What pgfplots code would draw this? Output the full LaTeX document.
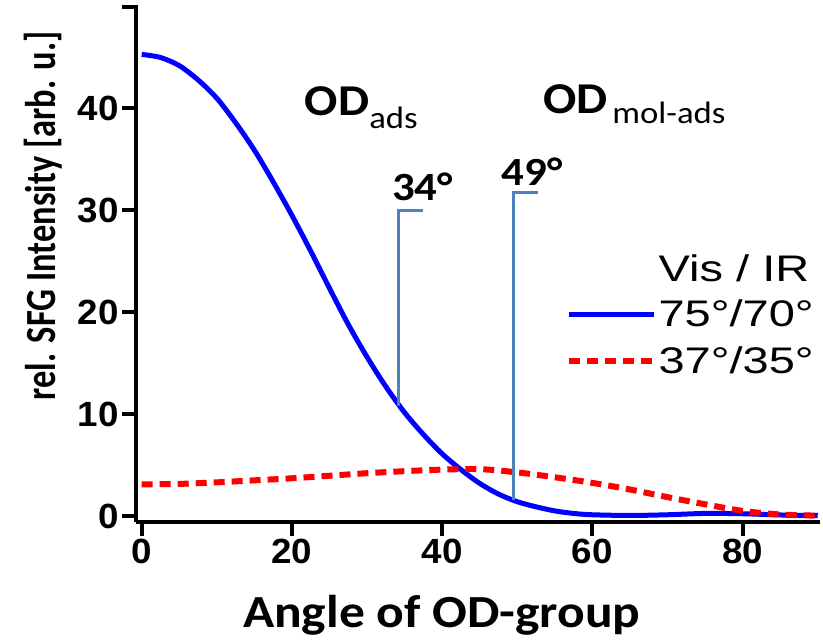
\documentclass[border=0pt]{standalone}
\usepackage{pgfplots}
\pgfplotsset{compat=1.18}
\usepackage{fontspec}
\setmainfont{Liberation Sans}
\newfontfamily\tickfont[FakeStretch=1.05]{Liberation Sans}
\newfontfamily\calfont[FakeStretch=1.12]{Carlito}
\newfontfamily\calfontv[FakeStretch=0.8]{Carlito}
\newfontfamily\legfont[FakeStretch=1.27]{Liberation Sans}
\definecolor{bracketblue}{RGB}{79,129,189}

% orientation dependence of the SFG signal for two Vis/IR geometries
\pgfplotstableread{
angle  I
0      45.3
2.5    45.0
5      44.2
7.5    42.8
10     41.0
12.5   38.6
15     35.9
17.5   32.8
20     29.5
22.5   26.0
25     22.35
27.5   18.8
30     15.6
32.5   12.7
35     10.15
37.5   8.0
40     6.1
42.5   4.55
45     3.2
47.5   2.15
50     1.4
52.5   0.9
55     0.5
57.5   0.25
60     0.12
65     0.05
70     0.12
75     0.25
80     0.22
85     0.10
90     0.05
}\steep

\pgfplotstableread{
angle  I
0      3.10
5      3.15
10     3.30
15     3.50
20     3.70
25     3.95
30     4.20
35     4.40
40     4.55
45     4.60
50     4.28
55     3.80
60     3.25
65     2.60
70     1.85
75     1.15
80     0.50
85     0.15
90     0.03
}\flat

\begin{document}
\begin{tikzpicture}
\useasboundingbox (-136pt,-121pt) rectangle (687pt,522pt);
\begin{axis}[
  at={(0pt,0pt)}, anchor=south west,
  scale only axis,
  width=684pt, height=517pt,
  xmin=-0.76, xmax=90.3,
  ymin=-0.59, ymax=50.15,
  axis x line*=bottom, axis y line*=left,
  axis line style={line width=4pt, -},
  every tick/.style={line width=4pt, black},
  tick align=outside,
  major tick length=14pt,
  xtick={0,20,40,60,80},
  ytick={0,10,20,30,40,50},
  yticklabels={0,10,20,30,40,{}},
  /pgf/number format/assume math mode=true,
  ticklabel style={font=\tickfont\bfseries\fontsize{35}{35}\selectfont},
  xlabel={Angle of OD-group},
  ylabel={rel. SFG Intensity [arb. u.]},
  xlabel style={font=\calfont\bfseries\fontsize{46}{46}\selectfont,
    at={(axis description cs:0.447,-0.205)}, anchor=base},
  ylabel style={font=\calfontv\bfseries\fontsize{43}{43}\selectfont,
    at={(axis description cs:-0.135,0.592)}, anchor=center},
  legend image code/.code={\draw[#1] (0pt,0pt) -- (85pt,0pt);},
  legend style={draw=none, fill=none, font=\legfont\fontsize{37}{37}\selectfont,
    at={(axis cs:56.4,21.4)}, anchor=north west, inner sep=0pt,
    row sep=14pt, cells={anchor=west}},
  clip=false,
]
\addplot[blue, line width=5pt, smooth] table[x=angle, y=I] {\steep};
\addlegendentry{75°/70°}
\addplot[red, line width=6pt, dash pattern=on 11pt off 7pt, smooth] table[x=angle, y=I] {\flat};
\addlegendentry{37°/35°}

% angle markers
\addplot[bracketblue, line width=3pt, forget plot] coordinates {(34.2,10.8) (34.2,30) (37.5,30)};
\addplot[bracketblue, line width=3pt, forget plot] coordinates {(49.5,1.6) (49.5,31.7) (52.8,31.7)};

\node[anchor=base west, inner sep=0pt] at (axis cs:33.3,31.0)
  {\calfont\bfseries\fontsize{40}{40}\selectfont 34°};
\node[anchor=base west, inner sep=0pt] at (axis cs:47.9,32.4)
  {\calfont\bfseries\fontsize{40}{40}\selectfont 49°};

\node[anchor=base west, inner sep=0pt] at (axis cs:21.7,39.35)
  {\calfont\bfseries\fontsize{44}{44}\selectfont OD\raisebox{-13pt}{\mdseries\fontsize{31}{31}\selectfont ads}};
\node[anchor=base west, inner sep=0pt] at (axis cs:53.4,39.5)
  {\calfont\bfseries\fontsize{44}{44}\selectfont OD\hspace{5pt}\raisebox{-10pt}{\mdseries\fontsize{31}{31}\selectfont mol-ads}};

\node[anchor=base west, inner sep=0pt] at (axis cs:68.8,23.0)
  {\legfont\fontsize{37}{37}\selectfont Vis / IR};
\end{axis}
\end{tikzpicture}
\end{document}
